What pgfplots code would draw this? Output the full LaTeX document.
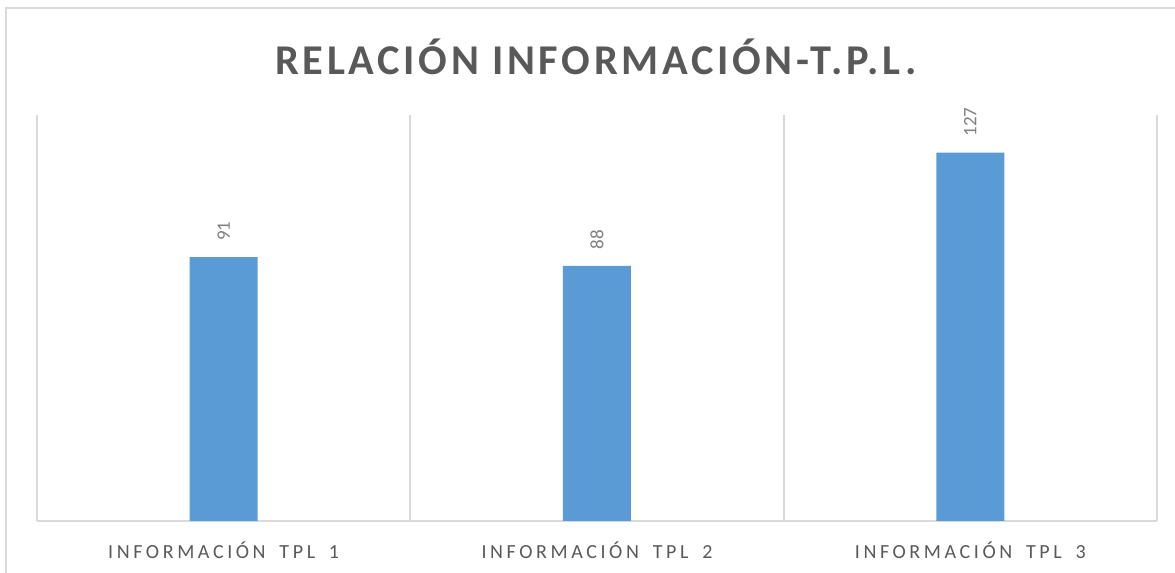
\documentclass[border=0pt]{standalone}
\usepackage{fontspec}
\setmainfont{Carlito}
\newfontfamily\titlefont[LetterSpace=8.7]{Carlito}
\newfontfamily\tickfont[LetterSpace=18,WordSpace=1.7]{Carlito}
\usepackage{pgfplots}
\pgfplotsset{compat=1.18}
\definecolor{barblue}{HTML}{5B9BD5}
\definecolor{gridgray}{HTML}{D9D9D9}
\definecolor{txtgray}{HTML}{595959}
\definecolor{lblgray}{HTML}{7F7F7F}

\begin{document}
\begin{tikzpicture}
\useasboundingbox (0pt,0pt) rectangle (587.5pt,286.5pt);
% outer chart border (runs off the right and bottom edges)
\draw[gridgray,line width=1pt] (3pt,-10pt) rectangle (600pt,282.5pt);
\node[text=txtgray,font=\titlefont\bfseries\fontsize{21.2}{25}\selectfont] at (298pt,258pt) {RELACIÓN INFORMACIÓN-T.P.L.};
\begin{axis}[
  at={(18.5pt,26pt)}, anchor=south west,
  scale only axis,
  width=560pt, height=203pt,
  ymin=0, ymax=140,
  xmin=-0.5, xmax=2.5,
  ybar, bar width=34pt,
  axis x line*=bottom, axis y line=none,
  x axis line style={draw=gridgray,line width=1pt},
  xtick={0,1,2},
  xticklabels={INFORMACIÓN TPL 1,INFORMACIÓN TPL 2,INFORMACIÓN TPL 3},
  major tick length=0pt,
  minor xtick={-0.5,0.5,1.5,2.5},
  minor tick length=0pt,
  xminorgrids,
  minor grid style={draw=gridgray,line width=1pt},
  x tick label style={font=\tickfont\fontsize{10}{12}\selectfont,text=txtgray,yshift=-7pt},
  /pgf/number format/assume math mode=true,
  nodes near coords,
  every node near coord/.append style={font=\fontsize{9.5}{11}\selectfont,text=lblgray,rotate=90,anchor=west,inner xsep=8pt},
]
\addplot[fill=barblue,draw=none] coordinates {(0,91) (1,88) (2,127)};
\end{axis}
\end{tikzpicture}
\end{document}
